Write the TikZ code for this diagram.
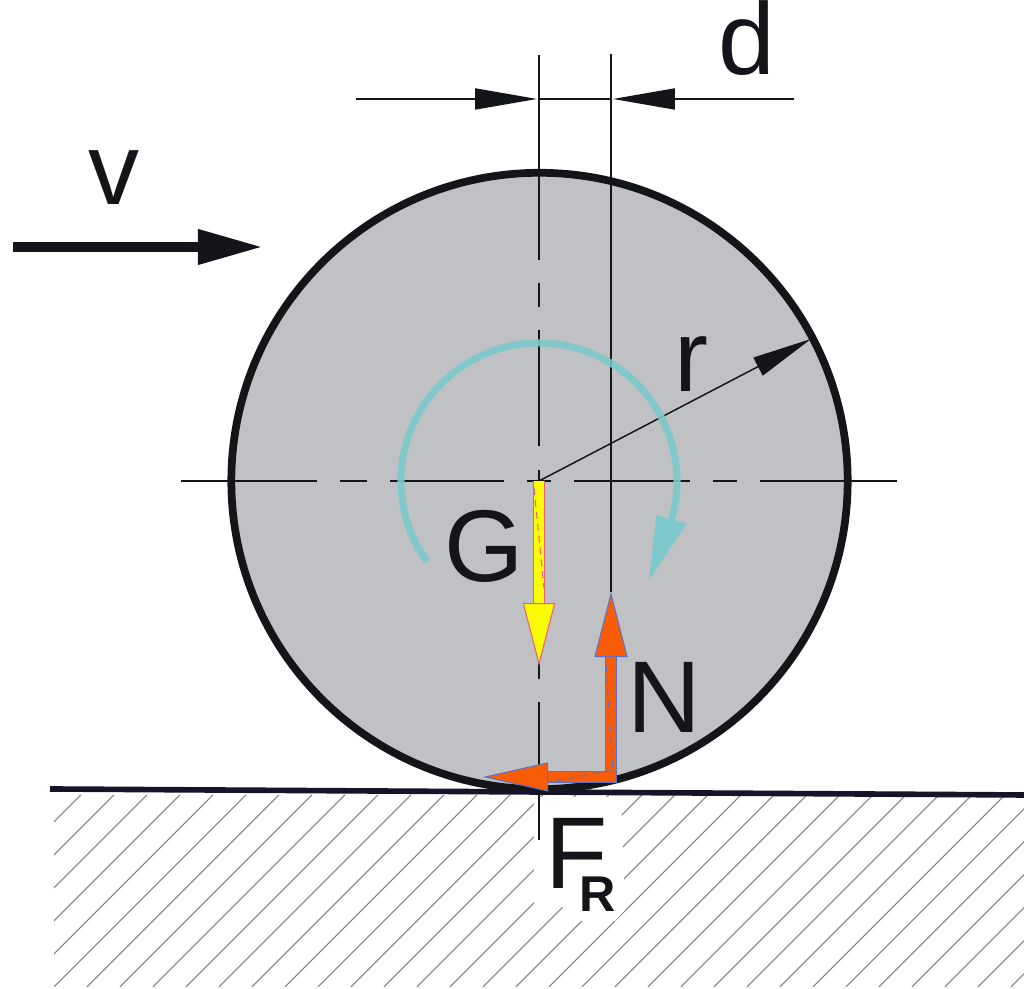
\documentclass[tikz,border=0pt]{standalone}
\usepackage{fontspec}
\setmainfont{Liberation Sans}
\usepackage{xcolor}
\definecolor{wheelgrey}{HTML}{C0C1C4}
\definecolor{inkblack}{HTML}{141518}
\definecolor{groundnavy}{HTML}{15142A}
\definecolor{spinteal}{HTML}{7CC8CB}
\definecolor{weightyellow}{HTML}{FBFB05}
\definecolor{weightedge}{HTML}{E8607C}
\definecolor{forceorange}{HTML}{F95C07}
\definecolor{forceedge}{HTML}{6070C0}
\usetikzlibrary{arrows.meta}
\tikzset{
    wheel/.style={
    circle,draw=inkblack,fill=wheelgrey,line width=2.2pt,minimum size=6.16cm,inner sep=0pt
    },
    lab/.style={
    inner sep=0pt,anchor=base,text=inkblack,font=\fontsize{29}{30}\selectfont
    },
    hatch/.style={draw=black!50,line width=0.3pt},
    ground/.style={draw=groundnavy,line width=1.6pt},
    centre/.style={draw=inkblack,line width=0.38pt},
    dimline/.style={draw=inkblack,line width=0.42pt},
    speed/.style={draw=inkblack,line width=2.85pt},
    spin/.style={draw=spinteal,line width=2pt},
    weight/.style={draw=weightedge,line width=0.3pt,double=weightyellow,double distance=2.9pt},
    react/.style={draw=forceedge,line width=0.3pt,double=forceorange,double distance=2.6pt,line join=miter},
    weightdash/.style={draw=weightedge,line width=0.3pt,dash pattern=on 2pt off 1.4pt},
    reactdash/.style={draw=forceedge,line width=0.3pt,dash pattern=on 2pt off 1.4pt}
}

\begin{document}
\begin{tikzpicture}[x=0.01cm,y=0.01cm]
    \useasboundingbox (0,0) rectangle (1024,989);

    % ground hatching
    \begin{scope}
      \clip (54,2) rectangle (1024,194);
      \foreach \c in {876,909,...,2000}
        \draw[hatch] ({\c-987},2) -- ({\c-795},194);
    \end{scope}
    \fill[white] (534,192) -- (534,85) -- (562,82) -- (582,68) -- (615,68) -- (625,79) -- (621,192) -- cycle;

    \node[wheel] (rim) at (539.5,508) {};
    \coordinate (cen) at (539,508);
    \draw[ground] (50,200) -- (1024,194);

    % centre lines
    \foreach \a/\b in {181/317,340/367,390/504,527/551,574/690,713/737,760/897}
      \draw[centre] (\a,508) -- (\b,508);
    \foreach \a/\b in {934/729,706/682,659/543,519/496,473/357,334/310,287/149}
      \draw[centre] (539,\a) -- (539,\b);

    % dimension d
    \coordinate (dl) at (356,890);
    \coordinate (dla) at (537,890);
    \coordinate (dm) at (539,890);
    \coordinate (dn) at (611,890);
    \coordinate (dra) at (613,890);
    \coordinate (dr) at (794,890);
    \coordinate (ntop) at (611,935);
    \coordinate (ntip) at (611,397);
    \draw[centre] (ntop) -- (ntip);
    \draw[dimline] (dm) -- (dn);
    \draw[dimline,-{Triangle[length=17.6pt,width=6pt]}] (dl) -- (dla);
    \draw[dimline,-{Triangle[length=17.6pt,width=6pt]}] (dr) -- (dra);

    % speed
    \coordinate (vl) at (13,742);
    \coordinate (vr) at (263,742);
    \draw[speed,-{Triangle[length=18.5pt,width=9.4pt]}] (vl) -- (vr);

    % radius
    \coordinate (rtip) at (811,650);
    \draw[dimline,-{Triangle[length=17pt,width=5.7pt]}] (cen) -- (rtip);

    % rotation
    \draw[spin,opacity=0.9] (cen) ++(215.8:138) arc[start angle=215.8,end angle=-16.1,radius=138] coordinate (arcend);
    \coordinate (spintip) at (649,409);
    \fill[spinteal] (arcend) ++(-15,4.5) -- ++(30,-9) -- (spintip) -- cycle;

    % forces
    \coordinate (gtip) at (539,323);
    \draw[weight,-{Triangle[length=17.9pt,width=9.2pt,fill=weightyellow,line width=0.3pt]}] (cen) -- (gtip);
    \draw[weightdash] (534,501) -- (544,401);
    \coordinate (ftip) at (483,212);
    \coordinate (bend) at (611,212);
    \draw[react,{Triangle[length=18.5pt,width=8.25pt,fill=forceorange,line width=0.3pt]}-{Triangle[length=18.5pt,width=9.4pt,fill=forceorange,line width=0.3pt]}] (ftip) -- (bend) -- (ntip);
    \draw[reactdash] (606,324) -- (613,219) -- (550,207);

    % labels
    \node[lab] (vlab) at (114,784) {v};
    \node[lab] (dlab) at (747,914) {d};
    \node[lab] (rlab) at (691,597) {r};
    \node[lab] (glab) at (484,407) {G};
    \node[lab] (nlab) at (664,256) {N};
    \node[lab,anchor=base west] (flab) at (545,100) {F\kern-8pt\raisebox{-6.5pt}{\fontsize{14.3}{15}\selectfont\bfseries R}};
\end{tikzpicture}
\end{document}
